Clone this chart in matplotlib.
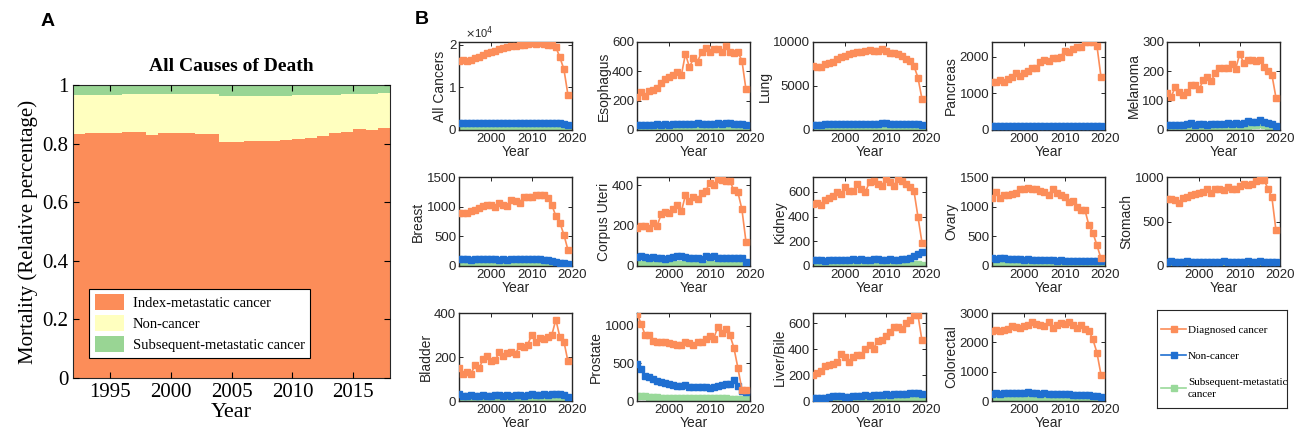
import numpy as np
import matplotlib
matplotlib.use("Agg")
import matplotlib.pyplot as plt
from matplotlib.patches import Patch
from matplotlib.lines import Line2D

# ---------------- Panel A data (relative fractions, 1992-2017 steps) ----------------
years_a = list(range(1992, 2018))
index_frac = [0.834, 0.836, 0.836, 0.837, 0.838, 0.841, 0.829, 0.837, 0.836, 0.835,
              0.834, 0.834, 0.806, 0.807, 0.808, 0.809, 0.808, 0.812, 0.815, 0.820,
              0.826, 0.836, 0.839, 0.850, 0.848, 0.852]
noncancer_frac = [0.132, 0.129, 0.130, 0.130, 0.130, 0.127, 0.139, 0.132, 0.133, 0.134,
                  0.134, 0.134, 0.158, 0.156, 0.156, 0.155, 0.154, 0.152, 0.150, 0.146,
                  0.141, 0.131, 0.129, 0.119, 0.122, 0.120]
subsequent_frac = [0.034, 0.035, 0.034, 0.033, 0.032, 0.032, 0.032, 0.031, 0.031, 0.031,
                   0.032, 0.032, 0.036, 0.037, 0.036, 0.036, 0.038, 0.036, 0.035, 0.034,
                   0.033, 0.033, 0.032, 0.031, 0.030, 0.028]

# ---------------- Panel B data (deaths per year, 1992-2019) ----------------
years_b = list(range(1992, 2020))
cancers = ["All Cancers", "Esophagus", "Lung", "Pancreas", "Melanoma",
           "Breast", "Corpus Uteri", "Kidney", "Ovary", "Stomach",
           "Bladder", "Prostate", "Liver/Bile", "Colorectal"]

diagnosed = {
    "All Cancers": [16200, 16300, 16100, 16400, 16800, 17200, 17600, 18000, 18300, 18600,
                    18900, 19200, 19400, 19600, 19700, 19800, 19900, 20100, 20300, 20200,
                    20300, 20100, 20000, 19800, 19400, 17000, 14200, 8200],
    "Esophagus": [226, 259, 231, 265, 272, 289, 323, 346, 363, 374, 397, 374, 520, 427,
                  490, 467, 531, 559, 531, 554, 550, 531, 573, 531, 527, 531, 473, 277],
    "Lung": [7300, 7200, 7200, 7500, 7600, 7700, 8100, 8300, 8400, 8600, 8800, 8900, 8900,
             9000, 9100, 9000, 9000, 9200, 9000, 8800, 8700, 8600, 8400, 8100, 7800, 7300,
             5960, 3540],
    "Pancreas": [1300, 1300, 1350, 1320, 1400, 1450, 1550, 1480, 1560, 1620, 1680, 1700,
                 1850, 1900, 1880, 1950, 1960, 2000, 2150, 2130, 2200, 2250, 2270, 2400,
                 2400, 2400, 2300, 1450],
    "Melanoma": [125, 112, 145, 130, 118, 130, 155, 152, 140, 170, 180, 168, 195, 210, 210,
                 212, 225, 208, 258, 230, 238, 240, 235, 238, 215, 200, 188, 110],
    "Breast": [890, 890, 900, 920, 950, 980, 1010, 1020, 1030, 990, 1060, 1020, 1010, 1120,
               1100, 1060, 1170, 1160, 1160, 1200, 1200, 1190, 1140, 1030, 840, 730, 525, 270],
    "Corpus Uteri": [190, 200, 200, 190, 215, 200, 255, 265, 260, 280, 300, 270, 350, 320,
                     340, 330, 360, 370, 410, 400, 430, 425, 420, 420, 375, 365, 280, 120],
    "Kidney": [500, 510, 490, 530, 550, 570, 600, 580, 640, 610, 610, 660, 620, 600, 680,
               690, 660, 650, 700, 680, 650, 700, 690, 660, 640, 610, 400, 190],
    "Ovary": [1150, 1250, 1150, 1200, 1200, 1220, 1230, 1290, 1300, 1310, 1290, 1300, 1270,
              1240, 1200, 1300, 1230, 1200, 1160, 1080, 1090, 1000, 950, 950, 690, 560, 350, 130],
    "Stomach": [750, 750, 740, 710, 760, 780, 800, 810, 820, 830, 860, 820, 860, 870, 850,
                890, 870, 860, 900, 920, 910, 920, 950, 970, 970, 870, 770, 400],
    "Bladder": [150, 125, 130, 125, 165, 150, 190, 205, 180, 185, 225, 205, 220, 225, 215,
                250, 245, 255, 300, 270, 285, 280, 290, 300, 370, 290, 270, 180],
    "Prostate": [1160, 1030, 880, 880, 800, 780, 790, 780, 770, 760, 750, 750, 790, 770,
                 740, 790, 780, 830, 860, 830, 980, 910, 960, 880, 710, 440, 150, 140],
    "Liver/Bile": [200, 220, 235, 270, 275, 285, 300, 360, 340, 300, 337, 354, 354, 405,
                   435, 405, 463, 468, 506, 531, 575, 575, 557, 600, 625, 666, 666, 468],
    "Colorectal": [2380, 2420, 2400, 2420, 2450, 2550, 2520, 2500, 2550, 2600, 2680, 2620,
                   2580, 2560, 2700, 2500, 2600, 2650, 2620, 2680, 2600, 2500, 2600, 2450,
                   2400, 2100, 1650, 900],
}

noncancer = {
    "All Cancers": [1700, 1680, 1650, 1660, 1700, 1720, 1680, 1650, 1700, 1680, 1660, 1650,
                    1700, 1680, 1660, 1700, 1650, 1680, 1700, 1650, 1660, 1640, 1620, 1600,
                    1580, 1550, 1400, 1200],
    "Esophagus": [35, 34, 33, 32, 36, 38, 34, 40, 36, 42, 40, 38, 44, 40, 42, 45, 42, 44, 40,
                  42, 46, 44, 48, 45, 44, 42, 40, 32],
    "Lung": [600, 610, 620, 630, 640, 650, 660, 660, 670, 680, 690, 700, 710, 720, 720, 730,
             730, 740, 740, 730, 730, 720, 710, 700, 690, 680, 650, 550],
    "Pancreas": [110, 105, 100, 105, 100, 105, 110, 105, 100, 110, 105, 110, 105, 110, 120,
                 110, 105, 115, 110, 105, 120, 110, 115, 120, 110, 115, 110, 100],
    "Melanoma": [18, 17, 18, 18, 17, 19, 25, 18, 19, 20, 18, 21, 19, 22, 20, 23, 21, 25, 22,
                 23, 30, 26, 28, 35, 27, 25, 20, 15],
    "Breast": [120, 115, 110, 105, 120, 125, 120, 125, 115, 110, 100, 110, 105, 110, 115,
               110, 115, 120, 110, 115, 110, 105, 100, 90, 70, 55, 45, 35],
    "Corpus Uteri": [45, 48, 46, 40, 45, 42, 40, 35, 42, 45, 48, 50, 45, 42, 38, 40, 35, 50,
                     45, 50, 42, 40, 38, 40, 38, 40, 42, 20],
    "Kidney": [50, 48, 45, 42, 45, 48, 50, 52, 48, 50, 55, 48, 55, 52, 50, 58, 55, 50, 48,
               55, 50, 52, 55, 60, 65, 80, 95, 115],
    "Ovary": [130, 125, 135, 130, 120, 115, 110, 115, 105, 110, 100, 105, 100, 95, 100, 95,
              90, 95, 90, 85, 90, 88, 85, 90, 85, 88, 85, 80],
    "Stomach": [50, 52, 48, 50, 48, 52, 50, 48, 46, 50, 48, 45, 48, 50, 52, 50, 48, 45, 50,
                48, 52, 50, 48, 52, 50, 48, 45, 40],
    "Bladder": [30, 25, 24, 28, 25, 22, 26, 24, 25, 26, 28, 24, 27, 25, 28, 26, 25, 28, 30,
                27, 29, 32, 28, 30, 33, 30, 28, 20],
    "Prostate": [490, 420, 330, 320, 290, 270, 250, 240, 220, 210, 200, 200, 210, 190, 180,
                 180, 180, 190, 170, 190, 200, 210, 220, 230, 280, 200, 130, 120],
    "Liver/Bile": [25, 24, 26, 25, 30, 35, 40, 35, 30, 32, 35, 38, 40, 45, 42, 45, 48, 50,
                   52, 50, 55, 52, 54, 56, 58, 60, 62, 55],
    "Colorectal": [250, 260, 255, 265, 270, 265, 270, 260, 280, 300, 270, 260, 250, 260,
                   250, 240, 250, 245, 230, 240, 220, 210, 220, 200, 190, 180, 160, 130],
}

subsequent = {
    "All Cancers": [600, 610, 600, 620, 610, 600, 620, 610, 600, 610, 620, 600, 610, 620,
                    600, 610, 600, 610, 620, 600, 610, 600, 590, 580, 560, 540, 500, 400],
    "Esophagus": [10, 10, 11, 10, 12, 11, 10, 12, 11, 10, 12, 11, 12, 10, 11, 12, 10, 11, 12,
                  11, 10, 12, 11, 10, 11, 10, 9, 8],
    "Lung": [250, 255, 250, 260, 255, 260, 265, 260, 270, 265, 270, 275, 270, 280, 275, 280,
             275, 280, 275, 270, 275, 270, 265, 260, 255, 250, 240, 200],
    "Pancreas": [40, 38, 40, 42, 40, 38, 40, 42, 40, 42, 40, 38, 40, 42, 40, 42, 40, 38, 40,
                 42, 40, 42, 40, 38, 40, 38, 35, 30],
    "Melanoma": [8, 9, 8, 9, 10, 9, 8, 12, 10, 11, 12, 10, 13, 12, 11, 14, 13, 12, 14, 13, 15,
                 16, 18, 20, 16, 14, 12, 10],
    "Breast": [20, 22, 20, 21, 22, 20, 21, 22, 20, 21, 20, 22, 21, 20, 22, 21, 20, 22, 21,
               20, 21, 20, 19, 18, 17, 15, 12, 10],
    "Corpus Uteri": [12, 10, 11, 8, 10, 9, 11, 10, 8, 10, 9, 11, 10, 9, 8, 10, 9, 11, 10, 9,
                     8, 10, 9, 8, 9, 8, 7, 5],
    "Kidney": [20, 21, 20, 22, 21, 20, 22, 21, 20, 22, 21, 20, 22, 21, 20, 22, 21, 20, 22,
               21, 20, 22, 21, 20, 19, 18, 16, 12],
    "Ovary": [40, 42, 40, 38, 40, 42, 40, 38, 40, 38, 36, 38, 40, 38, 36, 38, 36, 35, 36,
              35, 34, 35, 33, 32, 30, 28, 25, 20],
    "Stomach": [20, 21, 20, 22, 21, 20, 22, 21, 20, 22, 21, 20, 22, 21, 20, 22, 21, 20, 22,
                21, 20, 22, 21, 20, 19, 18, 16, 12],
    "Bladder": [10, 9, 8, 9, 10, 9, 8, 10, 9, 8, 10, 9, 10, 11, 10, 9, 10, 11, 10, 12, 11,
                10, 12, 11, 14, 12, 10, 6],
    "Prostate": [70, 65, 60, 55, 50, 48, 46, 45, 44, 42, 40, 40, 42, 40, 38, 38, 36, 38, 36,
                 35, 36, 35, 34, 33, 32, 30, 28, 25],
    "Liver/Bile": [10, 10, 11, 10, 12, 11, 10, 12, 11, 10, 12, 11, 12, 10, 11, 12, 10, 11,
                   12, 11, 10, 12, 11, 10, 11, 10, 9, 8],
    "Colorectal": [80, 82, 80, 84, 82, 80, 84, 82, 80, 82, 84, 80, 82, 80, 84, 82, 80, 82,
                   80, 78, 80, 78, 76, 74, 72, 70, 65, 55],
}

ylims = {"All Cancers": 20600, "Esophagus": 600, "Lung": 10000, "Pancreas": 2400,
         "Melanoma": 300, "Breast": 1500, "Corpus Uteri": 440, "Kidney": 720,
         "Ovary": 1500, "Stomach": 1000, "Bladder": 400, "Prostate": 1170,
         "Liver/Bile": 680, "Colorectal": 3000}
yticks = {"All Cancers": [0, 10000, 20000], "Esophagus": [0, 200, 400, 600],
          "Lung": [0, 5000, 10000], "Pancreas": [0, 1000, 2000],
          "Melanoma": [0, 100, 200, 300], "Breast": [0, 500, 1000, 1500],
          "Corpus Uteri": [0, 200, 400], "Kidney": [0, 200, 400, 600],
          "Ovary": [0, 500, 1000, 1500], "Stomach": [0, 500, 1000],
          "Bladder": [0, 200, 400], "Prostate": [0, 500, 1000],
          "Liver/Bile": [0, 200, 400, 600], "Colorectal": [0, 1000, 2000, 3000]}

C_ORANGE = "#fc8d59"
C_YELLOW = "#ffffbf"
C_GREEN = "#99d594"
C_BLUE = "#1f6fd1"
C_LGREEN = "#99d99a"

W, H = 1300, 436
fig = plt.figure(figsize=(W / 100, H / 100), dpi=100)

def frac(l, t, r, b):
    return [l / W, 1 - b / H, (r - l) / W, (b - t) / H]

SERIF = ["Liberation Serif", "DejaVu Serif"]
SANS = ["Liberation Sans", "DejaVu Sans"]

# ---------------- Panel A ----------------
axA = fig.add_axes(frac(73, 85, 390, 378))
edges = list(years_a) + [2018]
idx = np.array(index_frac)
top = idx + np.array(noncancer_frac)
axA.stairs(idx, edges, baseline=0, fill=True, color=C_ORANGE, lw=0)
axA.stairs(top, edges, baseline=idx, fill=True, color=C_YELLOW, lw=0)
axA.stairs(top + np.array(subsequent_frac), edges, baseline=top, fill=True, color=C_GREEN, lw=0)
axA.set_xlim(1992, 2018)
axA.set_ylim(0, 1)
axA.set_xticks([1995, 2000, 2005, 2010, 2015])
axA.set_yticks([0, 0.2, 0.4, 0.6, 0.8, 1])
axA.set_yticklabels(["0", "0.2", "0.4", "0.6", "0.8", "1"])
axA.tick_params(direction="in", top=True, right=True, labelsize=15, length=4, width=0.8)
for lab in axA.get_xticklabels() + axA.get_yticklabels():
    lab.set_family(SERIF)
axA.set_xlabel("Year", fontsize=16, family=SERIF, labelpad=1)
axA.set_ylabel("Mortality (Relative percentage)", fontsize=15, family=SERIF, labelpad=3)
axA.set_title("All Causes of Death", fontsize=14, fontweight="bold", family=SERIF, pad=10)
for s in axA.spines.values():
    s.set_color("#262626")
    s.set_linewidth(0.8)
axA.set_axisbelow(False)
handlesA = [Patch(facecolor=C_ORANGE, edgecolor="none", label="Index-metastatic cancer"),
            Patch(facecolor=C_YELLOW, edgecolor="none", label="Non-cancer"),
            Patch(facecolor=C_GREEN, edgecolor="none", label="Subsequent-metastatic cancer")]
legA = axA.legend(handles=handlesA, loc="lower left", bbox_to_anchor=(0.05, 0.068),
                  borderaxespad=0, prop={"family": SERIF, "size": 10.5},
                  handlelength=2.0, handleheight=1.3, labelspacing=0.35,
                  fancybox=False, edgecolor="black", framealpha=1, borderpad=0.4,
                  handletextpad=0.6)
legA.get_frame().set_linewidth(0.8)

fig.text(48 / W, 1 - 22 / H, "A", fontsize=14, fontweight="bold", family=SANS,
         ha="center", va="center")
fig.text(422 / W, 1 - 20 / H, "B", fontsize=14, fontweight="bold", family=SANS,
         ha="center", va="center")

# ---------------- Panel B ----------------
col_l = [459, 637, 813, 992, 1167]
ax_w = 113
rows = [(42, 130), (177, 266), (313, 401)]

for i, name in enumerate(cancers):
    r, c = divmod(i, 5)
    t, b = rows[r]
    l = col_l[c]
    ax = fig.add_axes(frac(l, t, l + ax_w, b))
    ax.plot(years_b, subsequent[name], "-s", color=C_LGREEN, ms=4.2, lw=2.0, zorder=2)
    ax.plot(years_b, noncancer[name], "-s", color=C_BLUE, ms=4, lw=1.8, zorder=3)
    ax.plot(years_b, diagnosed[name], "-s", color=C_ORANGE, ms=4, lw=1.2, zorder=4)
    ax.set_xlim(1992, 2020)
    ax.set_ylim(0, ylims[name])
    ax.set_xticks([2000, 2010, 2020])
    ax.set_yticks(yticks[name])
    if name == "All Cancers":
        ax.set_yticklabels(["0", "1", "2"])
        ax.text(0.05, 1.01, r"$\times$10$^4$", transform=ax.transAxes, fontsize=8,
                family=SANS, color="#262626", ha="left", va="bottom")
    ax.tick_params(direction="in", top=True, right=True, labelsize=9.5, length=3,
                   width=0.7, pad=2, colors="#262626")
    for lab in ax.get_xticklabels() + ax.get_yticklabels():
        lab.set_family(SANS)
    ax.set_ylabel(name, fontsize=10, family=SANS, color="#262626", labelpad=1)
    ax.set_xlabel("Year", fontsize=10, family=SANS, color="#262626", labelpad=0)
    for s in ax.spines.values():
        s.set_color("#262626")
        s.set_linewidth(1.0)

# legend box for panel B
axL = fig.add_axes(frac(1157, 310, 1287, 408))
axL.set_xticks([])
axL.set_yticks([])
for s in axL.spines.values():
    s.set_color("#262626")
    s.set_linewidth(0.8)
handlesB = [Line2D([], [], color=C_ORANGE, marker="s", ms=4, lw=1.2, label="Diagnosed cancer"),
            Line2D([], [], color=C_BLUE, marker="s", ms=4, lw=1.2, label="Non-cancer"),
            Line2D([], [], color=C_LGREEN, marker="s", ms=4, lw=1.2,
                   label="Subsequent-metastatic\ncancer")]
legB = axL.legend(handles=handlesB, loc="center left", bbox_to_anchor=(0.0, 0.47),
                  frameon=False, prop={"family": SERIF, "size": 8}, handlelength=2.2,
                  labelspacing=1.5, handletextpad=0.2, borderaxespad=0)
legB.get_texts()[2].set_linespacing(1.5)

fig.savefig("out.png", dpi=100)
